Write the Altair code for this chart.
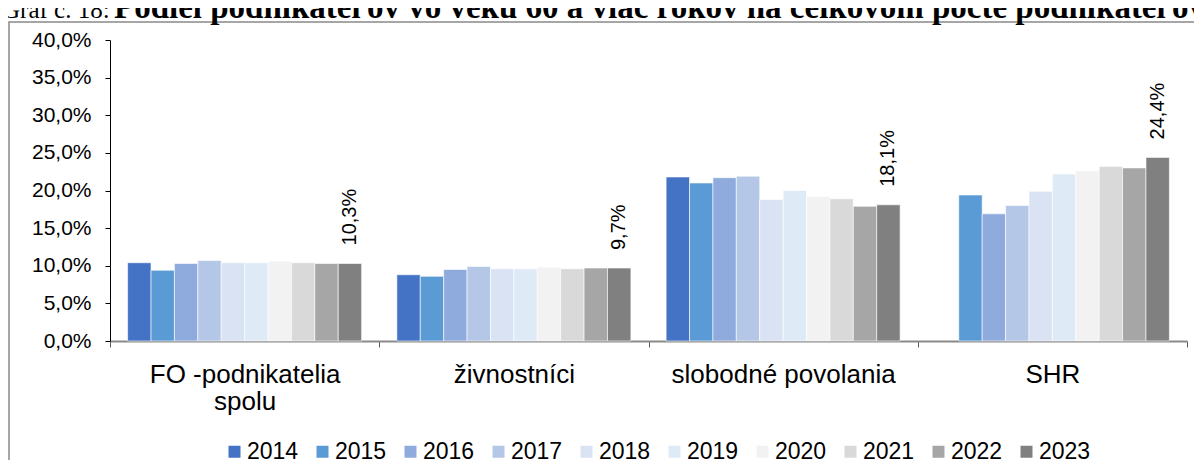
import altair as alt
import pandas as pd

categories = ["FO -podnikatelia spolu", "živnostníci", "slobodné povolania", "SHR"]
years = ["2014", "2015", "2016", "2017", "2018", "2019", "2020", "2021", "2022", "2023"]
fo_spolu = [10.4, 9.4, 10.3, 10.7, 10.4, 10.4, 10.6, 10.4, 10.3, 10.3]
zivnostnici = [8.8, 8.6, 9.5, 9.9, 9.6, 9.6, 9.8, 9.6, 9.7, 9.7]
slobodne = [21.8, 21.0, 21.7, 21.9, 18.8, 20.0, 19.2, 18.9, 17.9, 18.1]
shr = [None, 19.4, 16.9, 18.0, 19.9, 22.2, 22.6, 23.2, 23.0, 24.4]
y_ticks = [0, 5, 10, 15, 20, 25, 30, 35, 40]
colors = ["#4472C4", "#5B9BD5", "#8FAADC", "#B4C7E7", "#DAE3F3",
          "#DEEBF7", "#F2F2F2", "#D9D9D9", "#A6A6A6", "#808080"]
title_regular = "Graf č. 18:"
title_bold = "Podiel podnikateľov vo veku 60 a viac rokov na celkovom počte podnikateľov"

rows = []
for cat, vals in zip(categories, [fo_spolu, zivnostnici, slobodne, shr]):
    for y, v in zip(years, vals):
        if v is None:
            continue
        rows.append({"cat": cat, "year": y, "value": v,
                     "label": f"{v:.1f}".replace(".", ",") + "%"})
df = pd.DataFrame(rows)
last = df[df["year"] == years[-1]]

W, H = 1077, 301
x_axis = alt.Axis(title=None, labelAngle=0, labelFontSize=26,
                  labelFont="Liberation Sans", labelColor="#000",
                  tickSize=6, tickColor="#595959", domainColor="#898989",
                  domainWidth=2, tickBand="extent", labelPadding=14,
                  labelLineHeight=27, labelLimit=0,
                  labelExpr="datum.label == 'FO -podnikatelia spolu' ? ['FO -podnikatelia', 'spolu'] : datum.label")
y_axis = alt.Axis(values=y_ticks, title=None,
                  labelExpr="replace(format(datum.value, '.1f'), '.', ',') + '%'",
                  labelFontSize=21, labelFont="Liberation Sans", labelColor="#000",
                  labelOverlap=False, tickSize=5, tickColor="#000",
                  domainColor="#000", labelPadding=14, grid=False)
x_enc = alt.X("cat:N", sort=categories, scale=alt.Scale(paddingInner=0, paddingOuter=0),
              axis=x_axis)
xo_enc = alt.XOffset("year:N", sort=years,
                     scale=alt.Scale(domain=years, paddingInner=0, paddingOuter=0.753))
y_enc = alt.Y("value:Q", scale=alt.Scale(domain=[0, 40], nice=False), axis=y_axis)

bars = alt.Chart(df).mark_bar(stroke="white", strokeWidth=0.6).encode(
    x=x_enc, xOffset=xo_enc, y=y_enc,
    color=alt.Color("year:N", sort=years,
                    scale=alt.Scale(domain=years, range=colors),
                    legend=alt.Legend(orient="none", legendX=113, legendY=400,
                                      direction="horizontal", columns=10, title=None,
                                      symbolType="square", symbolSize=144,
                                      symbolStrokeWidth=0, symbolOpacity=1,
                                      labelFontSize=23, labelFont="Liberation Sans",
                                      labelColor="#000", labelOffset=1,
                                      columnPadding=12, padding=0)))

labels = alt.Chart(last).mark_text(angle=270, align="left", baseline="middle", dx=18,
                                   fontSize=20, font="Liberation Sans", color="#000").encode(
    x=x_enc, xOffset=xo_enc, y=y_enc, text="label:N")

one = pd.DataFrame({"a": [0]})
frame = alt.Chart(one).mark_rect(fill="transparent", stroke="#898989", strokeWidth=1.5).encode(
    x=alt.value(-101), x2=alt.value(1300), y=alt.value(-18), y2=alt.value(700))

t1 = alt.Chart(one).mark_text(align="left", baseline="alphabetic", font="Liberation Serif",
                              fontSize=25, color="#000").encode(
    x=alt.value(-108), y=alt.value(-22), text=alt.value(title_regular))
t2 = alt.Chart(one).mark_text(align="left", baseline="alphabetic", font="Liberation Serif",
                              fontSize=33, fontWeight="bold", color="#000").encode(
    x=alt.value(4), y=alt.value(-22), text=alt.value(title_bold))

chart = alt.layer(frame, bars, labels, t1, t2).properties(
    width=W, height=H,
    padding={"left": 102, "top": 32, "right": 7, "bottom": 119},
    autosize=alt.AutoSizeParams(type="none"),
).configure_view(strokeWidth=0).configure_axis(labelOverlap=False)

chart.save("out.html", embed_options={"renderer": "svg", "actions": False})
